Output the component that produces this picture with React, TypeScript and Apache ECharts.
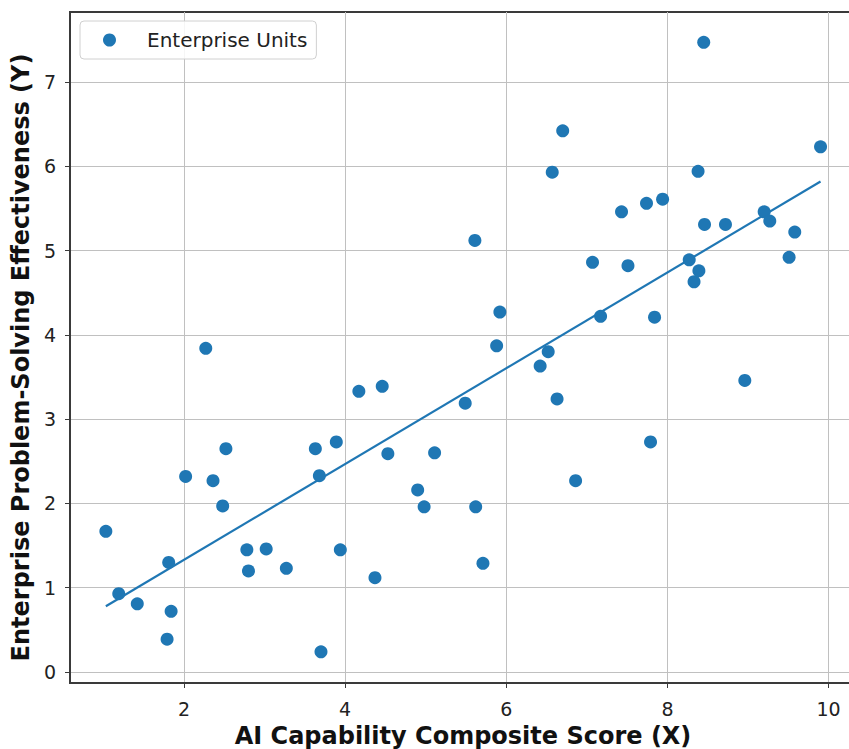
import React, { useEffect, useRef } from "react";
import * as echarts from "echarts";

const pointsX = [
  1.03, 1.19, 1.42, 1.79, 1.81, 1.84, 2.02, 2.27, 2.36, 2.48, 2.52, 2.78, 2.80, 3.02, 3.27,
  3.63, 3.68, 3.70, 3.89, 3.94, 4.17, 4.37, 4.46, 4.53, 4.90, 4.98, 5.11, 5.49, 5.61, 5.62,
  5.71, 5.88, 5.92, 6.42, 6.52, 6.57, 6.63, 6.70, 6.86, 7.07, 7.17, 7.43, 7.51, 7.74, 7.79,
  7.84, 7.94, 8.27, 8.33, 8.39, 8.38, 8.45, 8.46, 8.72, 8.96, 9.20, 9.27, 9.51, 9.58, 9.90,
];
const pointsY = [
  1.67, 0.93, 0.81, 0.39, 1.30, 0.72, 2.32, 3.84, 2.27, 1.97, 2.65, 1.45, 1.20, 1.46, 1.23,
  2.65, 2.33, 0.24, 2.73, 1.45, 3.33, 1.12, 3.39, 2.59, 2.16, 1.96, 2.60, 3.19, 5.12, 1.96,
  1.29, 3.87, 4.27, 3.63, 3.80, 5.93, 3.24, 6.42, 2.27, 4.86, 4.22, 5.46, 4.82, 5.56, 2.73,
  4.21, 5.61, 4.89, 4.63, 4.76, 5.94, 7.47, 5.31, 5.31, 3.46, 5.46, 5.35, 4.92, 5.22, 6.23,
];
const fitX = [1.03, 9.9];
const fitY = [0.78, 5.82];
const xTicks = [2, 4, 6, 8, 10];
const yTicks = [0, 1, 2, 3, 4, 5, 6, 7];
const seriesName = "Enterprise Units";
const xTitle = "AI Capability Composite Score (X)";
const yTitle = "Enterprise Problem-Solving Effectiveness (Y)";

export default function App() {
  const ref = useRef<HTMLDivElement>(null);
  useEffect(() => {
    if (!ref.current) return;
    const chart = echarts.init(ref.current, undefined, { renderer: "svg" });
    const font = "DejaVu Sans";
    const gridLine = { show: true, lineStyle: { color: "#c0c0c0", width: 1 } };
    chart.setOption({
      animation: false,
      backgroundColor: "#ffffff",
      grid: {
        left: 70,
        top: 12,
        width: 786,
        height: 671,
        show: true,
        borderColor: "#3a3a3a",
        borderWidth: 2,
        containLabel: false,
        outerBoundsMode: "none",
      },
      legend: {
        left: 80,
        top: 21,
        orient: "vertical",
        data: [{ name: seriesName, icon: "circle" }],
        itemWidth: 13,
        itemHeight: 13,
        padding: [9, 9, 9, 23],
        borderColor: "#d0d0d0",
        borderWidth: 1,
        borderRadius: 4,
        backgroundColor: "rgba(255,255,255,0.85)",
        textStyle: { fontFamily: font, fontSize: 20, color: "#222", padding: [0, 0, 0, 26] },
      },
      xAxis: {
        type: "value",
        min: 0.585,
        max: 10.34,
        name: xTitle,
        nameLocation: "middle",
        nameGap: 41,
        nameTextStyle: { fontFamily: font, fontSize: 24, fontWeight: "bold", color: "#111" },
        axisLine: { show: true, onZero: false, lineStyle: { color: "#3a3a3a", width: 2 } },
        axisTick: { show: true, length: 5, customValues: xTicks, lineStyle: { color: "#3a3a3a" } },
        axisLabel: { customValues: xTicks, margin: 16, fontFamily: font, fontSize: 19, color: "#222" },
        splitLine: gridLine,
      },
      yAxis: {
        type: "value",
        min: -0.13,
        max: 7.83,
        name: yTitle,
        nameLocation: "middle",
        nameGap: 37,
        nameTextStyle: {
          fontFamily: font,
          fontSize: 24,
          fontWeight: "bold",
          color: "#111",
          padding: [0, 20, 0, 0],
        },
        axisLine: { show: true, onZero: false, lineStyle: { color: "#3a3a3a", width: 2 } },
        axisTick: { show: true, length: 5, customValues: yTicks, lineStyle: { color: "#3a3a3a" } },
        axisLabel: { customValues: yTicks, margin: 14, fontFamily: font, fontSize: 19, color: "#222" },
        splitLine: gridLine,
      },
      series: [
        {
          name: seriesName,
          type: "scatter",
          symbol: "circle",
          symbolSize: 13,
          itemStyle: { color: "#1f77b4", opacity: 1 },
          data: pointsX.map((x, i) => [x, pointsY[i]]),
          z: 3,
        },
        {
          name: "fit",
          type: "line",
          data: fitX.map((x, i) => [x, fitY[i]]),
          showSymbol: false,
          symbol: "none",
          lineStyle: { color: "#1f77b4", width: 2.2 },
          z: 2,
        },
      ],
    });
    return () => chart.dispose();
  }, []);
  return (
    <div style={{ position: "fixed", left: 0, top: 0, width: 849, height: 749, overflow: "hidden", background: "#fff" }}>
      <div ref={ref} style={{ width: 880, height: 749 }} />
    </div>
  );
}
